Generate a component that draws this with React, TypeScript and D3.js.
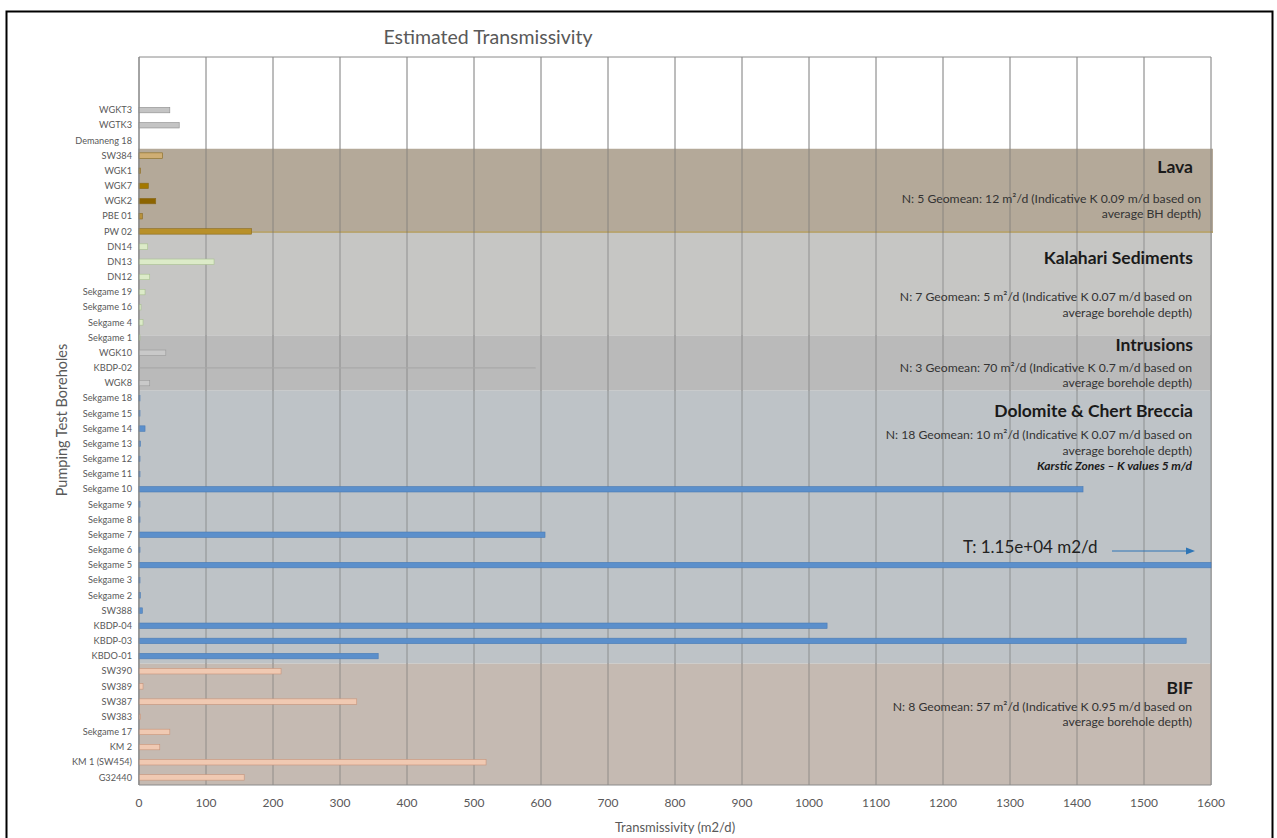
import React from 'react';
import * as d3 from 'd3';

// boreholes, top to bottom
const boreholes = [
  'WGKT3', 'WGTK3', 'Demaneng 18', 'SW384', 'WGK1', 'WGK7', 'WGK2', 'PBE 01', 'PW 02',
  'DN14', 'DN13', 'DN12', 'Sekgame 19', 'Sekgame 16', 'Sekgame 4', 'Sekgame 1',
  'WGK10', 'KBDP-02', 'WGK8',
  'Sekgame 18', 'Sekgame 15', 'Sekgame 14', 'Sekgame 13', 'Sekgame 12', 'Sekgame 11',
  'Sekgame 10', 'Sekgame 9', 'Sekgame 8', 'Sekgame 7', 'Sekgame 6', 'Sekgame 5',
  'Sekgame 3', 'Sekgame 2', 'SW388', 'KBDP-04', 'KBDP-03', 'KBDO-01',
  'SW390', 'SW389', 'SW387', 'SW383', 'Sekgame 17', 'KM 2', 'KM 1 (SW454)', 'G32440',
];

// transmissivity m2/d
const transmissivity = [
  46, 60, 0, 35, 2, 14, 25, 5, 168,
  13, 112, 16, 9, 3, 6, 1,
  40, 592, 16,
  1, 1, 9, 2, 1, 1,
  1409, 1, 1, 606, 1, 11500,
  1, 2, 5, 1027, 1563, 357,
  212, 6, 325, 2, 46, 31, 518, 157,
];

const geology = [
  'none', 'none', 'none', 'lava', 'lava', 'lava', 'lava', 'lava', 'lava',
  'kalahari', 'kalahari', 'kalahari', 'kalahari', 'kalahari', 'kalahari', 'kalahari',
  'intrusion', 'intrusion', 'intrusion',
  'dolomite', 'dolomite', 'dolomite', 'dolomite', 'dolomite', 'dolomite',
  'dolomite', 'dolomite', 'dolomite', 'dolomite', 'dolomite', 'dolomite',
  'dolomite', 'dolomite', 'dolomite', 'dolomite', 'dolomite', 'dolomite',
  'bif', 'bif', 'bif', 'bif', 'bif', 'bif', 'bif', 'bif',
];

const xTicks = d3.range(0, 1601, 100);

const zoneNames = ['Lava', 'Kalahari Sediments', 'Intrusions', 'Dolomite & Chert Breccia', 'BIF'];
const zoneNotes = [
  ['N: 5 Geomean: 12 m²/d (Indicative K 0.09 m/d based on', 'average BH depth)'],
  ['N: 7 Geomean: 5 m²/d (Indicative K 0.07 m/d based on', 'average borehole depth)'],
  ['N: 3 Geomean: 70 m²/d (Indicative K 0.7 m/d based on', 'average borehole depth)'],
  ['N: 18 Geomean: 10 m²/d (Indicative K 0.07 m/d based on', 'average borehole depth)'],
  ['N: 8 Geomean: 57 m²/d (Indicative K 0.95 m/d based on', 'average borehole depth)'],
];
const karsticNote = 'Karstic Zones – K values 5 m/d';
const offScaleLabel = 'T: 1.15e+04 m2/d';

const W = 1277;
const H = 838;
const font = 'Lato, "Open Sans", sans-serif';
const margin = { top: 57, right: 66, bottom: 53, left: 139 };

const barFill: Record<string, string> = {
  none: '#c4c4c4', lava: '#b8913a', kalahari: '#dcebc8', intrusion: '#c9c9c9',
  dolomite: '#5b8fcb', bif: '#f0c9b2',
};
const barStroke: Record<string, string> = {
  none: '#8c8c8c', lava: '#8a6a1e', kalahari: '#a8c090', intrusion: '#9a9a9a',
  dolomite: '#4a7bb5', bif: '#c8947a',
};
const lavaFill: Record<string, string> = {
  SW384: '#cfae74', WGK7: '#a37800', WGK2: '#8c6400', PW02: '#b8902a',
};

export default function App() {
  const blanks = ['_a', '_b', '_c'];
  const y = d3.scaleBand<string>()
    .domain([...blanks, ...boreholes])
    .range([margin.top, H - margin.bottom])
    .paddingInner(0);
  const bw = y.bandwidth();
  const x = d3.scaleLinear()
    .domain([0, 1600])
    .range([margin.left, W - margin.right]);

  const at = (name: string, frac: number) => (y(name) as number) + frac * bw;
  // zone boundaries, in band terms
  const bounds = [
    at('SW384', 0.05), at('PW 02', 0.6), at('Sekgame 1', 0.35),
    at('Sekgame 18', 0), at('SW390', 0), at('G32440', 1),
  ];
  const zoneFill = ['#b4a999', '#c6c6c4', '#bababa', '#bec3c7', '#c5bab2'];
  const zoneText = [
    { t: 18, l: [50, 65], r: 1201 },
    { t: 25, l: [64, 80], r: 1192 },
    { t: 10, l: [32, 47], r: 1192 },
    { t: 20, l: [44, 60], r: 1192 },
    { t: 24, l: [43, 58], r: 1192 },
  ];

  const x0 = x(0);
  const x1 = x(1600);
  const barH = bw * 0.36;
  const y5 = y('Sekgame 5') as number;

  return (
    <div style={{ position: 'absolute', left: 0, top: 0 }}>
      <svg width={W} height={H} style={{ display: 'block', background: '#fff' }}>
        <rect x={6.5} y={11.5} width={1266} height={850} fill="none" stroke="#000" strokeWidth={2} />

        <text x={488} y={37} textAnchor="middle" dy="0.35em" fontFamily={font} fontSize={19.5} fill="#595959">
          Estimated Transmissivity
        </text>

        {/* grid */}
        {xTicks.map(t => (
          <line key={'g' + t} x1={x(t)} x2={x(t)} y1={margin.top} y2={H - margin.bottom} stroke="#7a7a7a" strokeWidth={1} />
        ))}
        <line x1={x0} x2={x1} y1={margin.top} y2={margin.top} stroke="#8a8a8a" />

        {/* zones */}
        {zoneFill.map((c, i) => (
          <rect key={'z' + i} x={x0} y={bounds[i]} width={x1 - x0 + (i === 0 ? 2 : 0)} height={bounds[i + 1] - bounds[i]}
            fill={c} />
        ))}
        <line x1={x0} x2={x1 + 2} y1={bounds[1] - 1} y2={bounds[1] - 1} stroke="#b8a46a" strokeWidth={2} opacity={0.8} />
        {xTicks.map(t => (
          <line key={'g2' + t} x1={x(t)} x2={x(t)} y1={bounds[0]} y2={H - margin.bottom} stroke="#6e6e6e" strokeWidth={1} opacity={0.6} />
        ))}

        {/* bars */}
        {boreholes.map((b, i) => {
          const v = Math.min(transmissivity[i], 1600);
          if (transmissivity[i] <= 0) return null;
          const g = geology[i];
          const thin = b === 'KBDP-02';
          const fill = g === 'lava' ? (lavaFill[b.replace(' ', '')] || barFill.lava) : barFill[g];
          const h = thin ? 1.2 : barH;
          return (
            <rect key={b} x={x0} y={(y(b) as number) + (bw - h) / 2} width={Math.max(x(v) - x0, 1)} height={h}
              fill={thin ? '#a8a8a8' : fill} stroke={thin ? 'none' : barStroke[g]} strokeWidth={0.6} />
          );
        })}

        {/* axes */}
        <line x1={x0} x2={x0} y1={margin.top} y2={H - margin.bottom} stroke="#8a8a8a" />
        <line x1={x0} x2={x1} y1={H - margin.bottom} y2={H - margin.bottom} stroke="#8a8a8a" />
        {xTicks.map(t => (
          <text key={'t' + t} x={x(t)} y={803} textAnchor="middle" dy="0.35em" fontFamily={font} fontSize={12} fill="#595959">{t}</text>
        ))}
        <text x={675} y={827} textAnchor="middle" dy="0.35em" fontFamily={font} fontSize={13} fill="#595959">Transmissivity (m2/d)</text>
        {boreholes.map(b => (
          <text key={'l' + b} x={132} y={(y(b) as number) + bw / 2} textAnchor="end" dy="0.35em" fontFamily={font} fontSize={9.2} fill="#595959">{b}</text>
        ))}
        <text transform="translate(62,420) rotate(-90)" textAnchor="middle" dy="0.35em"
          fontFamily={font} fontSize={14.5} fill="#595959">Pumping Test Boreholes</text>

        {/* zone annotations */}
        {zoneNames.map((n, i) => (
          <g key={'a' + i} fontFamily={font}>
            <text x={1193} y={bounds[i] + zoneText[i].t} textAnchor="end" dy="0.35em" fontSize={17.5} fontWeight={700} fill="#1a1a1a">{n}</text>
            {zoneNotes[i].map((s, j) => (
              <text key={j} x={zoneText[i].r} y={bounds[i] + zoneText[i].l[j]} textAnchor="end" dy="0.35em" fontSize={12.2} fill="#333">{s}</text>
            ))}
          </g>
        ))}
        <text x={1192} y={bounds[3] + 75} textAnchor="end" dy="0.35em" fontFamily={font} fontSize={12} fontWeight={700}
          fontStyle="italic" fill="#1a1a1a">{karsticNote}</text>

        <text x={963} y={y5 - 10} dy="0.35em" fontFamily={font} fontSize={17} fill="#222">{offScaleLabel}</text>
        <line x1={1112} x2={1186} y1={y5 - 6.5} y2={y5 - 6.5} stroke="#2e75b6" strokeWidth={1} />
        <path d={`M1186,${y5 - 10} L1195,${y5 - 6.5} L1186,${y5 - 3} Z`} fill="#2e75b6" />
      </svg>
    </div>
  );
}
